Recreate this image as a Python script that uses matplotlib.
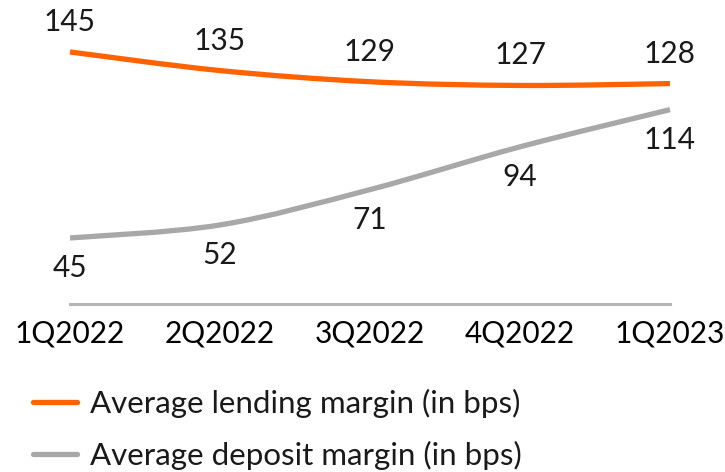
import matplotlib
matplotlib.use('Agg')
import matplotlib.pyplot as plt
from matplotlib.path import Path
from matplotlib.patches import PathPatch
from matplotlib.lines import Line2D

quarters = ["1Q2022", "2Q2022", "3Q2022", "4Q2022", "1Q2023"]
lending = [145, 135, 129, 127, 128]
deposit = [45, 52, 71, 94, 114]
series_names = ["Average lending margin (in bps)", "Average deposit margin (in bps)"]

ORANGE = "#ff6200"
GREY = "#a8a8a8"
AXIS_GREY = "#b5b5b5"

plt.rcParams['font.family'] = ['Lato', 'DejaVu Sans']
plt.rcParams['text.color'] = '#1a1a1a'


def smooth_path(xs, ys):
    # catmull-rom segments turned into cubic beziers
    verts = [(xs[0], ys[0])]
    codes = [Path.MOVETO]
    n = len(xs)
    for i in range(n - 1):
        x0, y0 = (xs[i - 1], ys[i - 1]) if i > 0 else (xs[i], ys[i])
        x1, y1 = xs[i], ys[i]
        x2, y2 = xs[i + 1], ys[i + 1]
        x3, y3 = (xs[i + 2], ys[i + 2]) if i + 2 < n else (x2, y2)
        c1 = (x1 + (x2 - x0) / 6, y1 + (y2 - y0) / 6)
        c2 = (x2 - (x3 - x1) / 6, y2 - (y3 - y1) / 6)
        verts += [c1, c2, (x2, y2)]
        codes += [Path.CURVE4] * 3
    return Path(verts, codes)


fig = plt.figure(figsize=(7.25, 4.72), dpi=100)
ax = fig.add_axes([70 / 725, 168 / 472, 600 / 725, 304 / 472])

x = list(range(len(quarters)))
for vals, col in [(lending, ORANGE), (deposit, GREY)]:
    ax.add_patch(PathPatch(smooth_path(x, vals), facecolor='none', edgecolor=col,
                           lw=3.8, capstyle='butt', clip_on=False))

for xi, v in zip(x, lending):
    ax.annotate(str(v), (xi, v), xytext=(0, 30), textcoords='offset pixels',
                ha='center', va='center', fontsize=21.5)
for xi, v in zip(x, deposit):
    ax.annotate(str(v), (xi, v), xytext=(0, -30), textcoords='offset pixels',
                ha='center', va='center', fontsize=21.5)

ax.set_xlim(0, 4)
ax.set_ylim(9.5, 9.5 + 304 / 1.86)
ax.set_xticks(x)
ax.set_xticklabels(quarters, fontsize=21.5)
ax.tick_params(axis='x', length=0, pad=11)
ax.set_yticks([])
for s in ['top', 'right', 'left']:
    ax.spines[s].set_visible(False)
ax.spines['bottom'].set_color(AXIS_GREY)
ax.spines['bottom'].set_linewidth(2.2)
ax.patch.set_alpha(0)

handles = [Line2D([], [], color=ORANGE, lw=3.8, solid_capstyle='round'),
           Line2D([], [], color=GREY, lw=3.8, solid_capstyle='round')]
fig.legend(handles, series_names, loc='upper left', bbox_to_anchor=(33 / 725, 1 - 389 / 472),
           frameon=False, fontsize=22.5, handlelength=1.4, handletextpad=0.42,
           labelspacing=0.72, borderpad=0, borderaxespad=0)

fig.savefig("out.png", dpi=100)
